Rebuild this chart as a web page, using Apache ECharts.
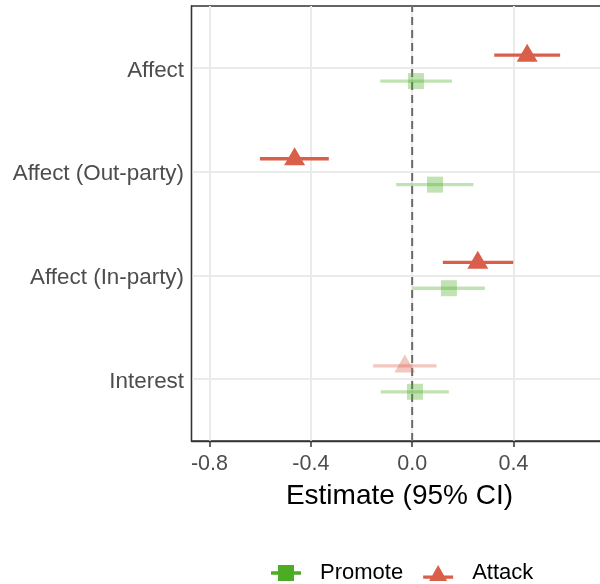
<!DOCTYPE html>
<html>
<head>
<meta charset="utf-8">
<script src="https://cdn.jsdelivr.net/npm/echarts@6/dist/echarts.min.js"></script>
<style>html,body{margin:0;padding:0;background:#fff}#c{width:600px;height:584px}</style>
</head>
<body>
<div id="c"></div>
<script>
// ---- data (top to bottom) ----
var categories = ['Affect', 'Affect (Out-party)', 'Affect (In-party)', 'Interest'];
var promoteEst = [0.015, 0.090, 0.145, 0.011];
var promoteLo  = [-0.126, -0.063, 0.001, -0.124];
var promoteHi  = [0.157, 0.242, 0.287, 0.145];
var promoteSig = [false, false, false, false];
var attackEst  = [0.454, -0.464, 0.259, -0.029];
var attackLo   = [0.324, -0.601, 0.121, -0.154];
var attackHi   = [0.584, -0.329, 0.399, 0.096];
var attackSig  = [true, true, true, false];
var xTicks = [-0.8, -0.4, 0.0, 0.4];
var refX = 0;

var n = categories.length;
var dodge = 0.125;
var yMin = 0.4, yMax = n + 0.6;
var RED = '#D95F4B', GREEN = '#4DAC26', FADE = 0.35;
var yPos = function (i, off) { return (n - i) + off; };

function barData(lo, hi, sig, off) {
  return lo.map(function (l, i) { return [l, hi[i], yPos(i, off), sig[i] ? 1 : FADE]; });
}
function ptData(est, sig, off) {
  return est.map(function (e, i) { return { value: [e, yPos(i, off)], itemStyle: { opacity: sig[i] ? 1 : FADE } }; });
}
function barRender(color) {
  return function (params, api) {
    var a = api.coord([api.value(0), api.value(2)]);
    var b = api.coord([api.value(1), api.value(2)]);
    return { type: 'line', shape: { x1: a[0], y1: a[1], x2: b[0], y2: b[1] },
      style: { stroke: color, lineWidth: 3.3, opacity: api.value(3) } };
  };
}

var FONT = '"Liberation Sans", Arial, Helvetica, sans-serif';
var chart = echarts.init(document.getElementById('c'), null, { renderer: 'canvas' });
chart.setOption({
  animation: false,
  grid: { left: 191.5, top: 6, width: 416, height: 435, show: true, borderColor: '#333', borderWidth: 1.3,
    backgroundColor: 'transparent', containLabel: false, outerBoundsMode: 'none' },
  xAxis: {
    type: 'value', min: -0.871, max: 0.771,
    name: 'Estimate (95% CI)', nameLocation: 'middle', nameGap: 41,
    nameTextStyle: { fontSize: 28, color: '#000', fontFamily: FONT },
    axisLine: { show: true, onZero: false, lineStyle: { color: '#333', width: 1.3 } },
    axisTick: { show: true, length: 6, customValues: xTicks, lineStyle: { color: '#333', width: 1.5 } },
    axisLabel: { customValues: xTicks, margin: 12, fontSize: 21.5, color: '#4D4D4D', fontFamily: FONT,
      formatter: function (v) { return v.toFixed(1); } },
    splitLine: { show: true, lineStyle: { color: '#EBEBEB', width: 2 } }
  },
  yAxis: {
    type: 'value', min: yMin, max: yMax,
    axisLine: { show: true, onZero: false, lineStyle: { color: '#333', width: 1.3 } },
    axisTick: { show: false, customValues: [1, 2, 3, 4] },
    axisLabel: { customValues: [1, 2, 3, 4], margin: 7.5, color: '#4D4D4D', fontFamily: FONT,
      formatter: function (v) { return '{a|' + categories[n - Math.round(v)] + '}'; },
      rich: { a: { fontSize: 22.4, color: '#4D4D4D', fontFamily: FONT, padding: [5, 0, 0, 0] } } },
    splitLine: { show: true, lineStyle: { color: '#EBEBEB', width: 2 } }
  },
  legend: {
    left: 271, top: 562, padding: 0, itemGap: 20, itemWidth: 30, itemHeight: 16,
    textStyle: { fontSize: 22, color: '#000', fontFamily: FONT, padding: [0, 0, 0, 14] },
    data: [
      { name: 'Promote', icon: 'path://M0,6.3L30,6.3L30,9.7L0,9.7Z M7,0L23,0L23,16L7,16Z', itemStyle: { color: GREEN } },
      { name: 'Attack', icon: 'path://M0,10.5L30,10.5L30,13.8L0,13.8Z M15,0L24,16L6,16Z', itemStyle: { color: RED } }
    ]
  },
  series: [
    { type: 'custom', name: 'ref', silent: true, z: 2, data: [[refX]],
      renderItem: function (params, api) {
        var a = api.coord([api.value(0), yMin]);
        var b = api.coord([api.value(0), yMax]);
        return { type: 'line', shape: { x1: a[0], y1: a[1], x2: b[0], y2: b[1] },
          style: { stroke: '#6A6A6A', lineWidth: 2, lineDash: [8, 5] } };
      } },
    { type: 'custom', name: 'Promote', renderItem: barRender(GREEN), data: barData(promoteLo, promoteHi, promoteSig, -dodge),
      itemStyle: { color: GREEN }, z: 3 },
    { type: 'custom', name: 'Attack', renderItem: barRender(RED), data: barData(attackLo, attackHi, attackSig, dodge),
      itemStyle: { color: RED }, z: 3 },
    { type: 'scatter', name: 'Promote', symbol: 'rect', symbolSize: 16, data: ptData(promoteEst, promoteSig, -dodge),
      itemStyle: { color: GREEN }, z: 4 },
    { type: 'scatter', name: 'Attack', symbol: 'triangle', symbolSize: [21, 18], symbolOffset: [0, -2.5],
      data: ptData(attackEst, attackSig, dodge), itemStyle: { color: RED }, z: 4 }
  ]
});
</script>
</body>
</html>
